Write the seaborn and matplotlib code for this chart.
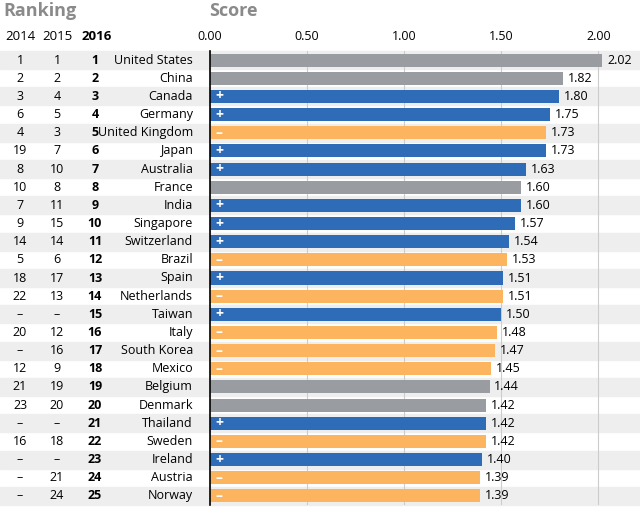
import pandas
import seaborn as sb
import matplotlib.pyplot as plt
from matplotlib.patches import Rectangle
from matplotlib.transforms import blended_transform_factory

countries = ["United States", "China", "Canada", "Germany", "United Kingdom", "Japan",
             "Australia", "France", "India", "Singapore", "Switzerland", "Brazil", "Spain",
             "Netherlands", "Taiwan", "Italy", "South Korea", "Mexico", "Belgium", "Denmark",
             "Thailand", "Sweden", "Ireland", "Austria", "Norway"]
scores = [2.02, 1.82, 1.80, 1.75, 1.73, 1.73, 1.63, 1.60, 1.60, 1.57, 1.54, 1.53, 1.51,
          1.51, 1.50, 1.48, 1.47, 1.45, 1.44, 1.42, 1.42, 1.42, 1.40, 1.39, 1.39]
trend = ["same", "same", "up", "up", "down", "up", "up", "same", "up", "up", "up", "down", "up",
         "down", "up", "down", "down", "down", "same", "same", "up", "down", "up", "down", "down"]
rank2014 = ["1", "2", "3", "6", "4", "19", "8", "10", "7", "9", "14", "5", "18", "22", "–",
            "20", "–", "12", "21", "23", "–", "16", "–", "–", "–"]
rank2015 = ["1", "2", "4", "5", "3", "7", "10", "8", "11", "15", "14", "6", "17", "13", "–",
            "12", "16", "9", "19", "20", "–", "18", "–", "21", "24"]
rank2016 = [str(i + 1) for i in range(25)]

colors = {"same": "#999da1", "up": "#2f6cb8", "down": "#fcb45f"}
signs = {"same": "", "up": "+", "down": "–"}

df = pandas.DataFrame({"country": countries, "score": scores, "trend": trend})

plt.rcParams['font.family'] = ['Open Sans', 'DejaVu Sans']
fig = plt.figure(figsize=(6.4, 5.15), dpi=100)
ax = fig.add_axes([210 / 640, 1 - 505 / 515, 430 / 640, 454 / 515])

sb.barplot(data=df, y="country", x="score", hue="trend", palette=colors, dodge=False,
           width=0.72, legend=False, saturation=1, ax=ax, zorder=3)

fs = 9
tr = blended_transform_factory(fig.transFigure, ax.transData)
for i in range(len(countries)):
    if i % 2 == 0:
        ax.add_patch(Rectangle((0, i - 0.5), 1, 1, transform=tr, color="#eeeeee",
                               clip_on=False, zorder=0))
    ax.text(193 / 640, i, countries[i], transform=tr, ha="right", va="center", fontsize=fs)
    ax.text(20 / 640, i, rank2014[i], transform=tr, ha="center", va="center", fontsize=fs)
    ax.text(57 / 640, i, rank2015[i], transform=tr, ha="center", va="center", fontsize=fs)
    ax.text(95 / 640, i, rank2016[i], transform=tr, ha="center", va="center", fontsize=fs,
            fontweight="bold")
    ax.text(scores[i] + 0.025, i, f"{scores[i]:.2f}", ha="left", va="center", fontsize=fs,
            zorder=4)
    if signs[trend[i]]:
        ax.text(0.03, i, signs[trend[i]], ha="left", va="center", color="white",
                fontsize=10, fontweight="bold", zorder=4)

ax.set_xlim(0, 2.215)
ax.set_ylim(24.5, -0.5)
ax.set_xticks([0, 0.5, 1.0, 1.5, 2.0])
ax.set_xticklabels(["0.00", "0.50", "1.00", "1.50", "2.00"], fontsize=fs)
ax.xaxis.tick_top()
ax.tick_params(axis="x", length=0, pad=6)
ax.set_yticks([])
ax.set_xlabel("")
ax.set_ylabel("")
ax.grid(axis="x", color="#cccccc", linewidth=0.8, zorder=1)
ax.set_axisbelow(False)
for s in ["top", "right", "bottom"]:
    ax.spines[s].set_visible(False)
ax.spines["left"].set_color("black")
ax.spines["left"].set_linewidth(1.2)
ax.spines["left"].set_zorder(5)
ax.patch.set_alpha(0)

fig.text(3 / 640, 1 - 11 / 515, "Ranking", fontsize=13, fontweight="bold", color="#8a8a8a",
         va="center")
fig.text(209 / 640, 1 - 11 / 515, "Score", fontsize=13, fontweight="bold", color="#8a8a8a",
         va="center")
for x, lab, w in [(20, "2014", "normal"), (57, "2015", "normal"), (97, "2016", "bold")]:
    fig.text(x / 640, 1 - 37 / 515, lab, fontsize=9.5, fontweight=w, ha="center", va="center")

fig.savefig("out.png", dpi=100)
